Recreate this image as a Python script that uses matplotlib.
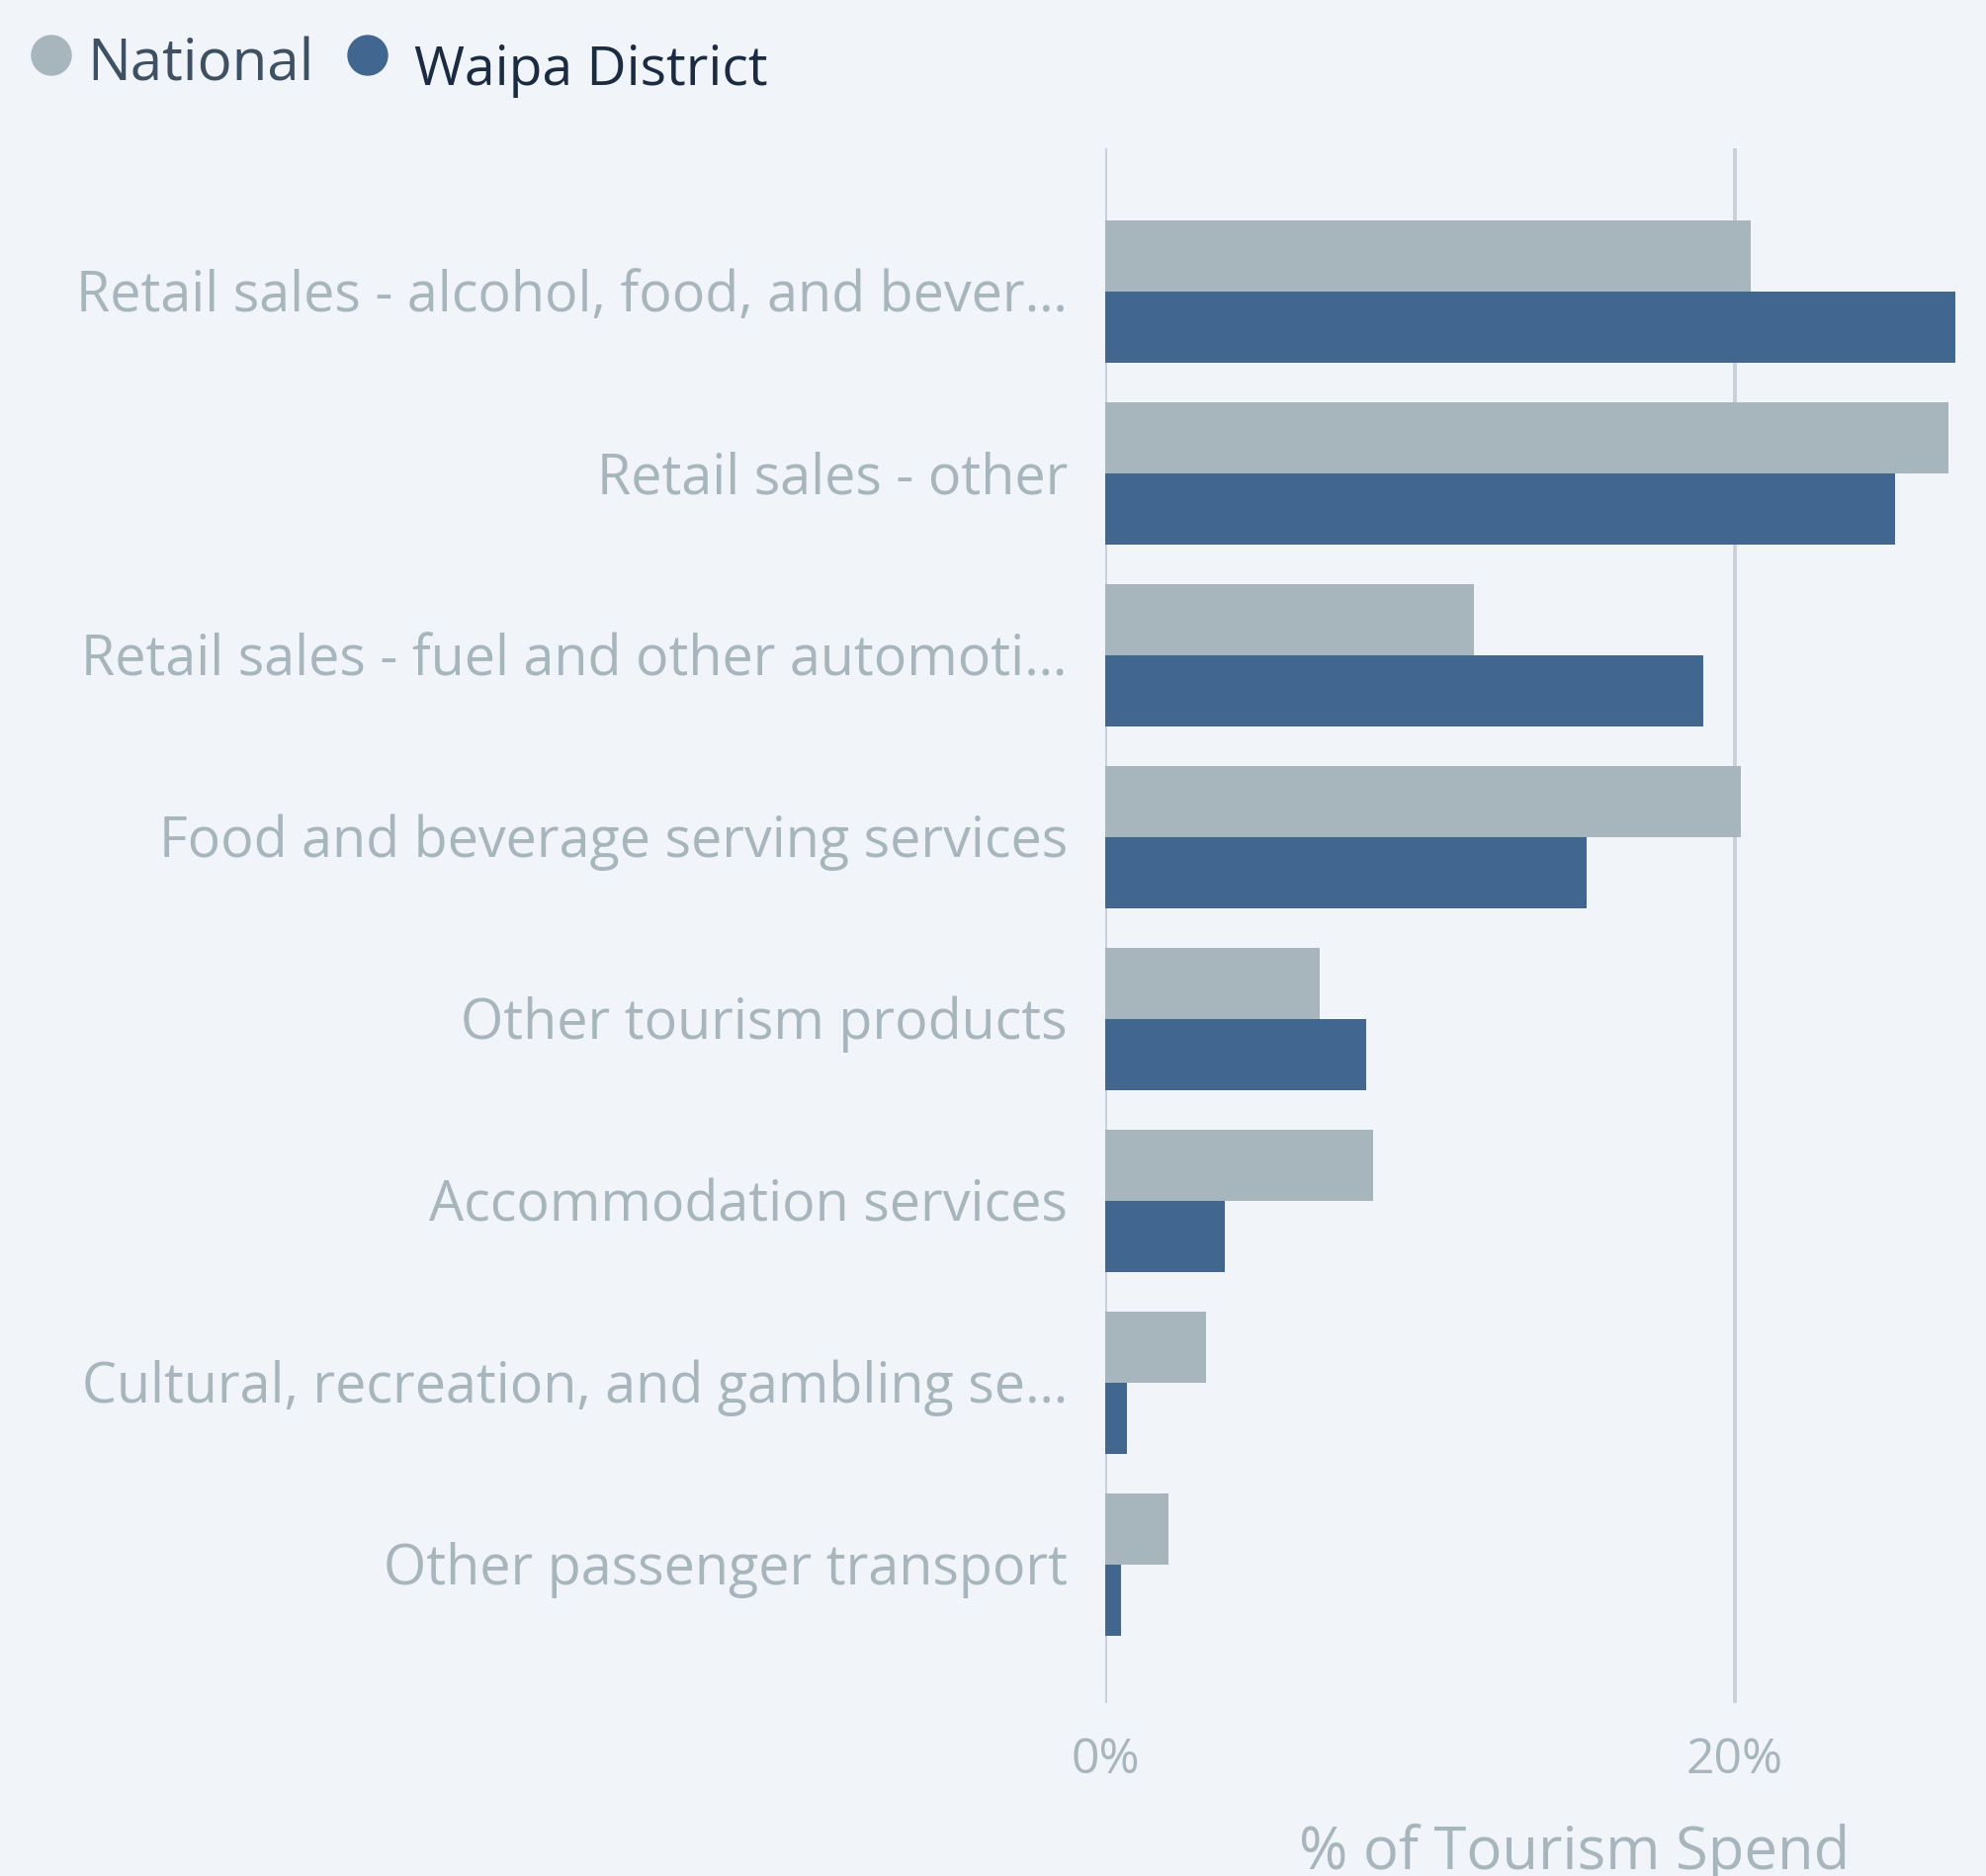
import matplotlib
matplotlib.use("Agg")
import matplotlib.pyplot as plt
from matplotlib.patches import Ellipse
from matplotlib.transforms import ScaledTranslation
import numpy as np

# ---------------- data ----------------
categories = [
    "Retail sales - alcohol, food, and bever\u2026",
    "Retail sales - other",
    "Retail sales - fuel and other automoti\u2026",
    "Food and beverage serving services",
    "Other tourism products",
    "Accommodation services",
    "Cultural, recreation, and gambling se\u2026",
    "Other passenger transport",
]
national = [20.5, 26.8, 11.7, 20.2, 6.8, 8.5, 3.2, 2.0]
waipa = [27.0, 25.1, 19.0, 15.3, 8.3, 3.8, 0.7, 0.5]
series_names = ["National", "Waipa District"]
xticks = [0, 20]
xtick_labels = ["0%", "20%"]
x_title = "% of Tourism Spend"

# ---------------- style ----------------
W, H = 2009, 1898
BG = "#f1f4f8"
C_NAT = "#a7b5bd"
C_WAI = "#41668f"
C_LABEL = "#a7b5bd"
C_GRID = "#c9d1d7"
FONT = ["Open Sans", "DejaVu Sans"]
CAP = 0.714  # cap height / em for Open Sans
plt.rcParams["font.family"] = FONT

fig = plt.figure(figsize=(W / 100, H / 100), dpi=100, facecolor=BG)
renderer = fig.canvas.get_renderer()


def fit_size(text, target_px, base=40):
    t = fig.text(0, 0, text, fontsize=base)
    w = t.get_window_extent(renderer).width
    t.remove()
    return base * target_px / w


left, right = 1118 / W, 1981 / W
top, bottom = 1 - 150 / H, 1 - 1723 / H
ax = fig.add_axes([left, bottom, right - left, top - bottom])
ax.set_facecolor(BG)

n = len(categories)
y = np.arange(n)
bh = 0.391
ax.barh(y - bh / 2, national, height=bh, color=C_NAT, zorder=3, label=series_names[0])
ax.barh(y + bh / 2, waipa, height=bh, color=C_WAI, zorder=3, label=series_names[1])

ax.set_xlim(0, 27.1)
ax.set_ylim(n - 1 + 0.76, -0.79)

for xv in xticks:
    ax.axvline(xv, color=C_GRID, lw=2.8, zorder=1)

for s in ax.spines.values():
    s.set_visible(False)

# category labels: cap-height centred on the category
lab_size = fit_size("Food and beverage serving services", 917)
ax.set_yticks(y, labels=categories, ha="right", va="baseline")
ax.tick_params(axis="y", length=0, pad=38 * 72 / 100, labelsize=lab_size, labelcolor=C_LABEL)
dy = CAP * lab_size / 72 / 2  # inches
for lab in ax.get_yticklabels():
    lab.set_transform(lab.get_transform() + ScaledTranslation(0, -dy, fig.dpi_scale_trans))

# x tick labels: baseline 71 px below axes
tick_size = fit_size("20%", 98)
ax.set_xticks(xticks, labels=xtick_labels, va="baseline")
ax.tick_params(axis="x", length=0, pad=71 * 72 / 100, labelsize=tick_size, labelcolor=C_LABEL)

# axis title (cut off at bottom like reference)
ttl_size = fit_size(x_title, 556)
fig.text(1593 / W, 1 - 1891 / H, x_title, ha="center", va="baseline",
         fontsize=ttl_size, color=C_LABEL)

# legend
r = 20
for cx, col in [(52, C_NAT), (372, C_WAI)]:
    fig.add_artist(Ellipse((cx / W, 1 - 56 / H), 2 * r / W, 2 * r / H,
                           transform=fig.transFigure, color=col))
s1 = fit_size(series_names[0], 229)
fig.text(88 / W, 1 - 82 / H, series_names[0], ha="left", va="baseline",
         fontsize=s1, color="#3e5063")
s2 = fit_size(series_names[1], 357)
fig.text(419 / W, 1 - 86 / H, series_names[1], ha="left", va="baseline",
         fontsize=s2, color="#1b2b42")

fig.savefig("out.png", dpi=100, facecolor=BG)
